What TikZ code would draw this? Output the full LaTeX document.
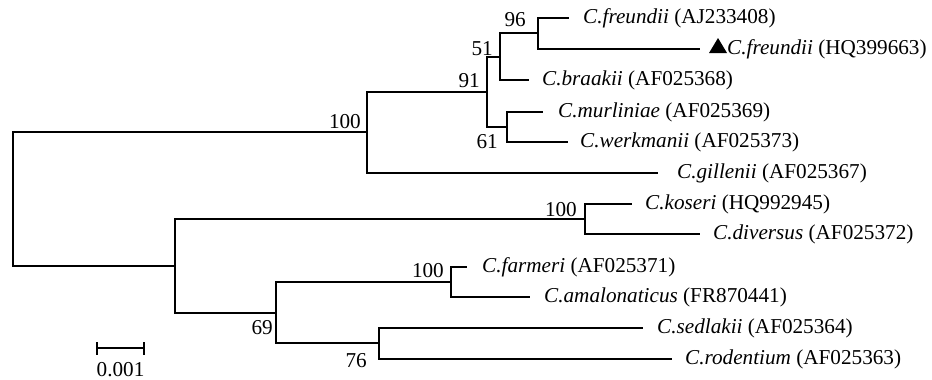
\documentclass[tikz,border=0pt]{standalone}
\usepackage{fontspec}
\setmainfont{Liberation Serif}
\begin{document}
\begin{tikzpicture}[x=1pt,y=-1pt,
  br/.style={line width=2pt},
  taxon/.style={anchor=west,inner sep=0pt,font=\fontsize{21.2}{25}\selectfont},
  boot/.style={anchor=base east,inner sep=0pt,font=\fontsize{21.2}{25}\selectfont},
  scl/.style={anchor=base,inner sep=0pt,font=\fontsize{21.2}{25}\selectfont}]
\useasboundingbox (0,0) rectangle (932,380);
% internal nodes
\coordinate (R) at (13,199);
\coordinate (A) at (367,132);
\coordinate (N91) at (487,92);
\coordinate (N51) at (500,57);
\coordinate (N96) at (538,33);
\coordinate (N61) at (507,127);
\coordinate (B) at (175,266);
\coordinate (NK) at (585,219);
\coordinate (N69) at (276,313);
\coordinate (NF) at (451,282);
\coordinate (N76) at (379,343);
% leaves
\coordinate (L1) at (569,18);
\coordinate (L2) at (700,49);
\coordinate (L3) at (529,80);
\coordinate (L4) at (543,112);
\coordinate (L5) at (568,142);
\coordinate (L6) at (658,173);
\coordinate (L7) at (632,204);
\coordinate (L8) at (700,234);
\coordinate (L9) at (467,267);
\coordinate (L10) at (530,297);
\coordinate (L11) at (643,328);
\coordinate (L12) at (672,359);
% branches
\draw[br] (R) |- (A);
\draw[br] (R) |- (B);
\draw[br] (A) |- (N91);
\draw[br] (A) |- (L6);
\draw[br] (N91) |- (N51);
\draw[br] (N91) |- (N61);
\draw[br] (N51) |- (N96);
\draw[br] (N51) |- (L3);
\draw[br] (N96) |- (L1);
\draw[br] (N96) |- (L2);
\draw[br] (N61) |- (L4);
\draw[br] (N61) |- (L5);
\draw[br] (B) |- (NK);
\draw[br] (B) |- (N69);
\draw[br] (NK) |- (L7);
\draw[br] (NK) |- (L8);
\draw[br] (N69) |- (NF);
\draw[br] (N69) |- (N76);
\draw[br] (NF) |- (L9);
\draw[br] (NF) |- (L10);
\draw[br] (N76) |- (L11);
\draw[br] (N76) |- (L12);
% taxa
\node[taxon] (t1) at (583,18) {\textit{C.freundii} (AJ233408)};
\node[taxon] (t2) at (727,49) {\textit{C.freundii} (HQ399663)};
\fill (709,53) -- (727,53) -- (718,38) -- cycle;
\node[taxon] (t3) at (542,80) {\textit{C.braakii} (AF025368)};
\node[taxon] (t4) at (558,112) {\textit{C.murliniae} (AF025369)};
\node[taxon] (t5) at (580,142) {\textit{C.werkmanii} (AF025373)};
\node[taxon] (t6) at (677,173) {\textit{C.gillenii} (AF025367)};
\node[taxon] (t7) at (645,204) {\textit{C.koseri} (HQ992945)};
\node[taxon] (t8) at (713,234) {\textit{C.diversus} (AF025372)};
\node[taxon] (t9) at (482,267) {\textit{C.farmeri} (AF025371)};
\node[taxon] (t10) at (544,297) {\textit{C.amalonaticus} (FR870441)};
\node[taxon] (t11) at (657,328) {\textit{C.sedlakii} (AF025364)};
\node[taxon] (t12) at (685,359) {\textit{C.rodentium} (AF025363)};
% bootstrap values
\node[boot] (bA) at (361,128) {100};
\node[boot] (b91) at (480,87) {91};
\node[boot] (b51) at (493,55) {51};
\node[boot] (b96) at (526,27) {96};
\node[boot] (b61) at (498,148) {61};
\node[boot] (bK) at (577,216) {100};
\node[boot] (bF) at (444,277) {100};
\node[boot] (b69) at (273,334) {69};
\node[boot] (b76) at (367,367) {76};
% scale bar
\coordinate (s1) at (97,348);
\coordinate (s2) at (144,348);
\draw[br] (s1) -- (s2);
\draw[br] ([yshift=6pt]s1) -- ([yshift=-7pt]s1);
\draw[br] ([yshift=6pt]s2) -- ([yshift=-7pt]s2);
\node[scl] (sl) at (120.5,376.5) {0.001};
\end{tikzpicture}
\end{document}
